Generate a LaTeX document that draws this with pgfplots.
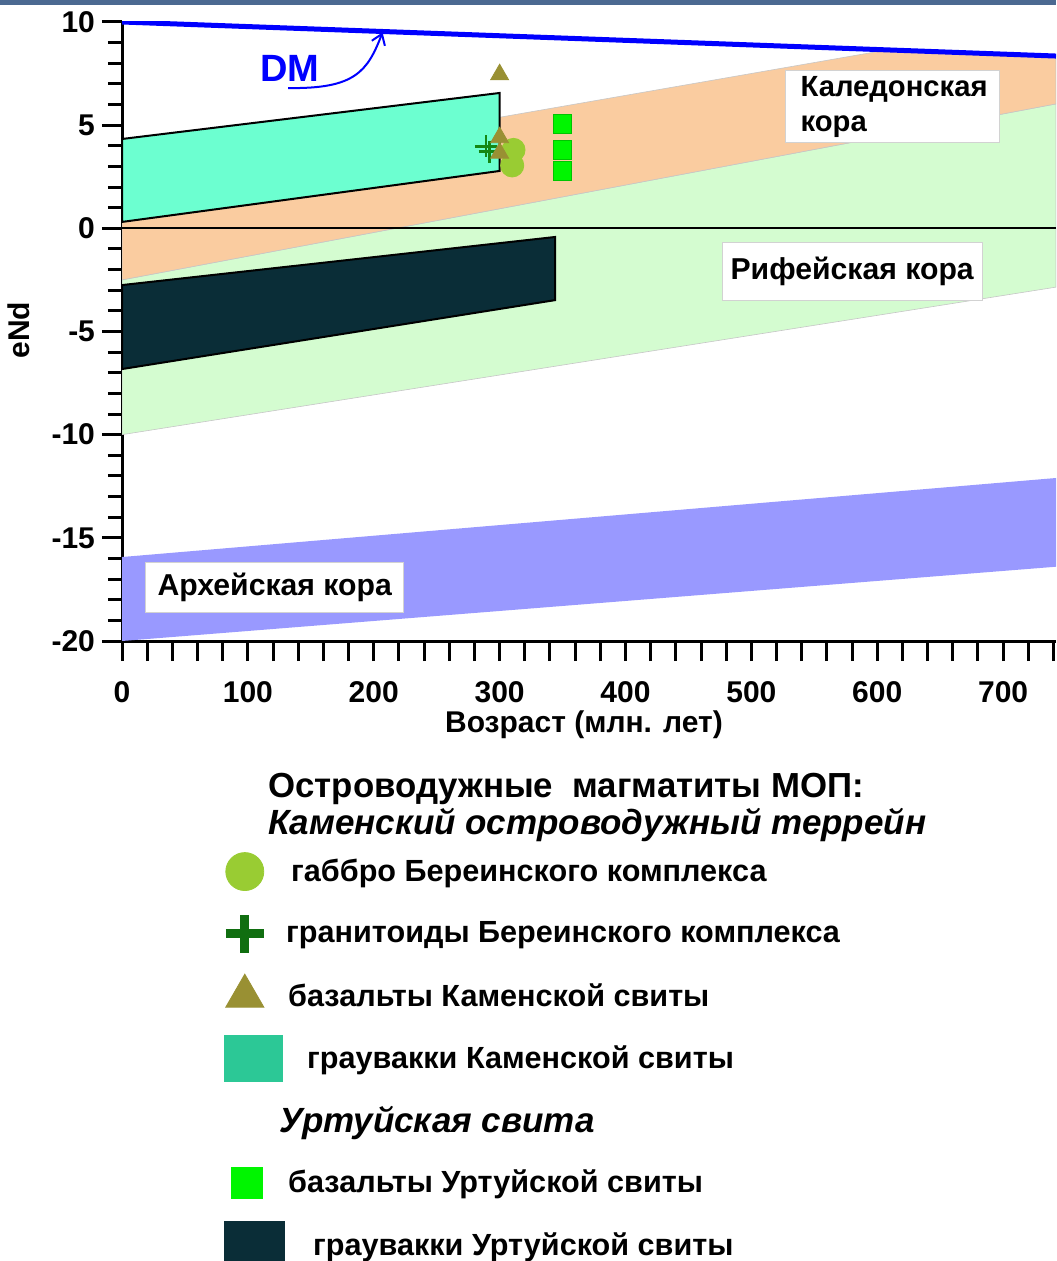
\documentclass[border=0pt]{standalone}
\usepackage{fontspec}
\setmainfont{Liberation Sans}
\usepackage{pgfplots}
\pgfplotsset{compat=1.18}
\usetikzlibrary{arrows.meta}

\definecolor{peach}{RGB}{250,204,160}
\definecolor{lgreen}{RGB}{212,252,208}
\definecolor{archean}{RGB}{153,153,255}
\definecolor{kambox}{RGB}{108,255,208}
\definecolor{kamleg}{RGB}{44,200,150}
\definecolor{urtbox}{RGB}{10,45,55}
\definecolor{olive}{RGB}{153,144,51}
\definecolor{gabbro}{RGB}{153,204,51}
\definecolor{granite}{RGB}{20,135,20}
\definecolor{granleg}{RGB}{16,110,16}
\definecolor{basgreen}{RGB}{0,245,0}
\definecolor{topbar}{RGB}{75,105,145}

% invisible spacer that fixes the width of every legend image
\newcommand{\legbox}{\pgfpathrectangle{\pgfpoint{0pt}{-2pt}}{\pgfpoint{30pt}{4pt}}\pgfusepath{discard}}

\begin{document}
\begin{tikzpicture}
% 1 px of the reference = 0.5pt; plot area lower-left at (0,0)
\useasboundingbox (-61pt,-310pt) rectangle (467pt,320.5pt);
\fill[topbar] (-61pt,318pt) rectangle (467pt,320.5pt);

\begin{axis}[
   at={(0,0)}, anchor=south west,
   scale only axis, width=467pt, height=309.5pt,
   xmin=0, xmax=742, ymin=-20, ymax=10,
   axis x line*=bottom, axis y line*=left,
   axis line style={line width=1.5pt, -},
   xtick={0,20,...,740},
   xticklabels={0,,,,,100,,,,,200,,,,,300,,,,,400,,,,,500,,,,,600,,,,,700,,},
   ytick={-20,-15,...,10},
   minor ytick={-19,...,9},
   tick align=outside,
   major tick length=10pt, minor tick length=7pt,
   tick style={line width=1.5pt, black},
   /pgf/number format/assume math mode=true,
   ticklabel style={font=\bfseries\fontsize{15}{18}\selectfont},
   xticklabel style={yshift=-6.5pt},
   xlabel={Возраст (млн. лет)},
   ylabel={eNd},
   label style={font=\bfseries\fontsize{15}{18}\selectfont},
   xlabel style={at={(axis description cs:0.4946,-0.1357)}, anchor=center},
   ylabel style={at={(axis description cs:-0.111,0.502)}, anchor=center},
   legend style={at={(0.1092,-0.3215)}, anchor=north west, draw=none, fill=none,
      inner sep=0pt, row sep=0pt, column sep=3pt,
      nodes={inner sep=0pt, minimum height=31.15pt, anchor=west,
         font=\bfseries\fontsize{15.3}{18}\selectfont}},
   legend cell align=left,
]
% crustal evolution bands
\addplot[fill=lgreen, draw=gray!45, line width=0.3pt, forget plot] coordinates {
   (0,-10) (742,-2.85) (742,6.03) (0,-2.5)} -- cycle;
\addplot[fill=peach, draw=gray!45, line width=0.3pt, forget plot] coordinates {
   (0,-2.5) (742,6.03) (742,8.35) (608,8.65) (0,2.2)} -- cycle;
\addplot[fill=archean, draw=none, forget plot] coordinates {
   (0,-20) (742,-16.4) (742,-12.1) (0,-15.93)} -- cycle;
\addplot[black, line width=1pt, forget plot] coordinates {(0,0) (742,0)};
% depleted mantle
\addplot[blue, line width=2.5pt, forget plot] coordinates {(0,10) (742,8.35)};
% greywacke fields
\addplot[fill=kambox, draw=black, line width=1pt, forget plot] coordinates {
   (0,0.31) (300,2.78) (300,6.56) (0,4.33)} -- cycle;
\addplot[fill=urtbox, draw=black, line width=1pt, forget plot] coordinates {
   (0,-6.82) (344,-3.48) (344,-0.42) (0,-2.75)} -- cycle;
% samples
\addplot[only marks, mark=*, mark size=5.8pt, mark options={draw=gabbro, fill=gabbro}, forget plot]
   coordinates {(310,3.05) (311,3.8)};
\addplot[only marks, mark=+, mark size=5.5pt, mark options={draw=granite, line width=1.2pt}, forget plot]
   coordinates {(289,3.97) (292,3.72)};
\addplot[only marks, mark=triangle*, mark size=5.2pt, mark options={draw=olive, fill=olive}, forget plot]
   coordinates {(300,7.45) (300,4.4) (300,3.65)};
\addplot[only marks, mark=square*, mark size=4.6pt, mark options={draw=basgreen!80!black, line width=0.3pt, fill=basgreen}, forget plot]
   coordinates {(350,5.06) (350,3.8) (350,2.78)};

% DM label and arrow
\node[text=blue, font=\bfseries\fontsize{19}{22}\selectfont] at (axis cs:133.5,7.77) {DM};
\draw[blue, line width=1pt, -{Straight Barb[length=5pt, width=7pt]}]
   (axis cs:132,6.8) .. controls (axis cs:185,6.75) and (axis cs:195,7.6) .. (axis cs:207,9.5);

% field names
\node[anchor=north west, fill=white, draw=gray!35, line width=0.5pt,
   text width=92pt, inner xsep=7.5pt, inner ysep=0pt, minimum height=36pt, align=left,
   font=\bfseries\fontsize{14.6}{17.5}\selectfont] at (axis cs:526.8,7.67) {Каледонская\\кора};
\node[anchor=north west, fill=white, draw=gray!35, line width=0.5pt,
   inner xsep=4pt, inner ysep=0pt, minimum height=29pt,
   font=\bfseries\fontsize{15.1}{18}\selectfont] at (axis cs:476.7,-0.664) {\makebox[122pt][l]{Рифейская кора}};
\node[anchor=north west, fill=white, draw=gray!35, line width=0.5pt,
   inner xsep=6pt, inner ysep=0pt, minimum height=25pt,
   font=\bfseries\fontsize{15.1}{18}\selectfont] at (axis cs:18.3,-16.18) {\makebox[117pt][l]{Архейская кора}};

% legend
\addlegendimage{legend image code/.code={\legbox
   \draw[only marks, mark=*, mark size=9.5pt, mark options={draw=gabbro, fill=gabbro}] plot coordinates {(10pt,0pt)};}}
\addlegendentry{габбро Береинского комплекса}
\addlegendimage{legend image code/.code={\legbox
   \draw[only marks, mark=+, mark size=9.5pt, mark options={draw=granleg, line width=4.5pt}] plot coordinates {(10pt,0pt)};}}
\addlegendentry{\hspace*{-2.5pt}гранитоиды Береинского комплекса}
\addlegendimage{legend image code/.code={\legbox
   \draw[only marks, mark=triangle*, mark size=11pt, mark options={draw=olive, fill=olive}] plot coordinates {(10pt,0pt)};}}
\addlegendentry{\hspace*{-1.5pt}базальты Каменской свиты}
\addlegendimage{legend image code/.code={\legbox
   \fill[kamleg] (0pt,-11.5pt) rectangle (29pt,11.5pt);}}
\addlegendentry{\hspace*{8pt}граувакки Каменской свиты}
\addlegendimage{empty legend}
\addlegendentry{\hspace*{-6pt}\itshape\fontsize{17.5}{20}\selectfont Уртуйская свита}
\addlegendimage{legend image code/.code={\legbox
   \draw[only marks, mark=square*, mark size=7.8pt, mark options={draw=basgreen, fill=basgreen}] plot coordinates {(11pt,0pt)};}}
\addlegendentry{\hspace*{-1.5pt}базальты Уртуйской свиты}
\addlegendimage{legend image code/.code={\legbox
   \fill[urtbox] (0pt,-12pt) rectangle (30pt,12pt);}}
\addlegendentry{\hspace*{11pt}граувакки Уртуйской свиты}
\end{axis}

% legend headings
\node[anchor=west, inner sep=0pt, font=\bfseries\fontsize{17.4}{20}\selectfont] at (73pt,-74pt) {Островодужные\ \ магматиты МОП:};
\node[anchor=west, inner sep=0pt, font=\bfseries\itshape\fontsize{17.5}{20}\selectfont] at (73pt,-92pt) {Каменский островодужный террейн};
\end{tikzpicture}
\end{document}
